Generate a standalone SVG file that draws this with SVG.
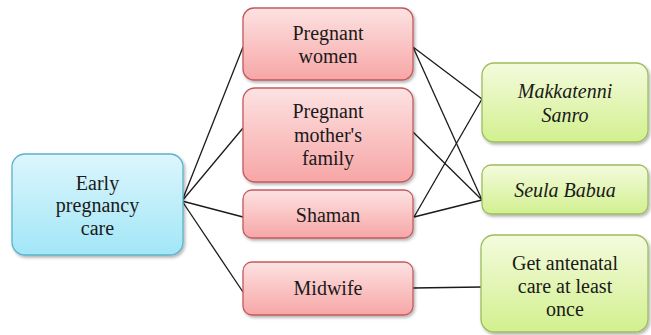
<svg xmlns="http://www.w3.org/2000/svg" width="651" height="335" viewBox="0 0 651 335">
<defs>
<linearGradient id="gb" x1="0" y1="0" x2="0" y2="1"><stop offset="0" stop-color="#dcf6fc"/><stop offset="1" stop-color="#a2e6f7"/></linearGradient>
<linearGradient id="gp" x1="0" y1="0" x2="0" y2="1"><stop offset="0" stop-color="#fde2e2"/><stop offset="1" stop-color="#f7a6a6"/></linearGradient>
<linearGradient id="gg" x1="0" y1="0" x2="0" y2="1"><stop offset="0" stop-color="#f4fbdd"/><stop offset="1" stop-color="#d2f08f"/></linearGradient>
<filter id="sh" x="-10%" y="-10%" width="130%" height="130%"><feDropShadow dx="1.5" dy="2" stdDeviation="1.5" flood-color="#000" flood-opacity="0.3"/></filter>
</defs>
<style>
text{font-family:"Liberation Serif","Times New Roman","DejaVu Serif",serif;font-size:20px;fill:#1a1a1a;text-anchor:middle}
.it{font-style:italic}
.b{fill:url(#gb);stroke:#5bb3c9;stroke-width:1.3;filter:url(#sh)}
.p{fill:url(#gp);stroke:#c55a5c;stroke-width:1.3;filter:url(#sh)}
.g{fill:url(#gg);stroke:#9dbd5c;stroke-width:1.3;filter:url(#sh)}
.c line{stroke:#1a1a1a;stroke-width:1.3}
</style>
<g class="c" id="connectors">
<line x1="182" y1="201" x2="243" y2="47"/>
<line x1="182" y1="201" x2="243" y2="128"/>
<line x1="182" y1="201" x2="243" y2="217"/>
<line x1="182" y1="201" x2="243" y2="292"/>
<line x1="413" y1="47" x2="482" y2="99"/>
<line x1="413" y1="47" x2="482" y2="200"/>
<line x1="413" y1="132" x2="482" y2="200"/>
<line x1="414" y1="217" x2="482" y2="99"/>
<line x1="414" y1="217" x2="482" y2="200"/>
<line x1="413" y1="288" x2="482" y2="287"/>
</g>
<g id="early">
<rect class="b" x="12" y="154" width="171" height="101" rx="13"/>
<text x="97.5" y="190">Early</text>
<text x="97.5" y="212">pregnancy</text>
<text x="97.5" y="235">care</text>
</g>
<g id="women">
<rect class="p" x="243" y="8" width="170" height="72" rx="11"/>
<text x="328" y="40">Pregnant</text>
<text x="328" y="63">women</text>
</g>
<g id="family">
<rect class="p" x="243" y="88" width="170" height="94" rx="12"/>
<text x="328" y="118">Pregnant</text>
<text x="328" y="142">mother's</text>
<text x="328" y="165">family</text>
</g>
<g id="shaman">
<rect class="p" x="243" y="190" width="170" height="48" rx="9"/>
<text x="328" y="222">Shaman</text>
</g>
<g id="midwife">
<rect class="p" x="243" y="262" width="170" height="53" rx="9"/>
<text x="328" y="295">Midwife</text>
</g>
<g id="makkatenni">
<rect class="g" x="482" y="63" width="166" height="79" rx="12"/>
<text class="it" x="565" y="98">Makkatenni</text>
<text class="it" x="565" y="122">Sanro</text>
</g>
<g id="seula">
<rect class="g" x="482" y="165" width="166" height="49" rx="9"/>
<text class="it" x="565" y="197">Seula Babua</text>
</g>
<g id="antenatal">
<rect class="g" x="481" y="235" width="167" height="97" rx="13"/>
<text x="565" y="270">Get antenatal</text>
<text x="565" y="293">care at least</text>
<text x="565" y="316">once</text>
</g>
</svg>
